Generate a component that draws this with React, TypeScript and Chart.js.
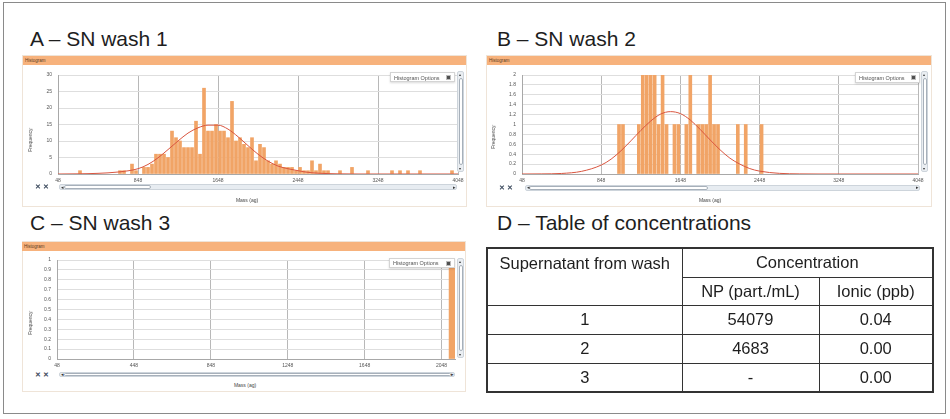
import React, { useEffect, useRef } from "react";
import { Chart, registerables } from "chart.js";
Chart.register(...registerables);

// ---------- DATA ----------
// Panel A – SN wash 1 (bin centres in ag, frequency)
const massA = [268, 668, 708, 788, 828, 908, 948, 988, 1028, 1068, 1108, 1148, 1188, 1228, 1268, 1308, 1348, 1388, 1428, 1468, 1508, 1548, 1588, 1628, 1668, 1708, 1748, 1788, 1828, 1868, 1908, 1948, 1988, 2028, 2068, 2108, 2148, 2188, 2228, 2268, 2308, 2348, 2388, 2428, 2468, 2508, 2548, 2588, 2628, 2668, 2708, 2748, 2868, 2988, 3148, 3388, 3468, 3548, 3668, 3988];
const countA = [1, 1, 1, 3, 1, 2, 2, 3, 6, 6, 6, 5, 13, 11, 10, 8, 8, 8, 16, 6, 26, 13, 13, 15, 13, 13, 11, 22, 10, 11, 9, 8, 11, 4, 9, 8, 4, 3, 4, 3, 2, 2, 2, 1, 2, 1, 1, 4, 1, 3, 1, 1, 1, 2, 1, 1, 1, 1, 1, 1];
const fitMassA = [48, 248, 448, 648, 848, 948, 1048, 1148, 1248, 1348, 1448, 1548, 1648, 1748, 1848, 1948, 2048, 2148, 2248, 2348, 2448, 2548, 2648, 2848, 3048, 4048];
const fitA = [0, 0.05, 0.2, 0.6, 1.6, 2.9, 4.9, 7.4, 10.0, 12.4, 14.0, 14.8, 14.8, 13.6, 11.3, 8.6, 6.0, 3.9, 2.4, 1.6, 1.0, 0.5, 0.25, 0.05, 0, 0];
const xTicksA = [48, 848, 1648, 2448, 3248, 4048];

// Panel B – SN wash 2
const massB = [1028, 1068, 1228, 1268, 1308, 1348, 1388, 1428, 1468, 1508, 1588, 1628, 1708, 1748, 1828, 1868, 1908, 1948, 1988, 2028, 2228, 2308, 2468];
const countB = [1, 1, 1, 2, 2, 2, 2, 1, 2, 1, 1, 1, 1, 2, 1, 1, 1, 2, 1, 1, 1, 1, 1];
const fitMassB = [48, 248, 448, 648, 848, 948, 1048, 1148, 1248, 1348, 1448, 1548, 1648, 1748, 1848, 1948, 2048, 2148, 2248, 2348, 2448, 2648, 2848, 3048, 4048];
const fitB = [0, 0.002, 0.011, 0.053, 0.18, 0.3, 0.47, 0.67, 0.88, 1.07, 1.21, 1.26, 1.22, 1.09, 0.9, 0.69, 0.49, 0.32, 0.2, 0.11, 0.058, 0.013, 0.002, 0, 0];
const xTicksB = [48, 848, 1648, 2448, 3248, 4048];

// Panel C – SN wash 3
const massC = [2102];
const countC = [1];
const xTicksC = [48, 448, 848, 1248, 1648, 2048];

// Panel D – table
const washes = ["1", "2", "3"];
const npConc = ["54079", "4683", "-"];
const ionicConc = ["0.04", "0.00", "0.00"];

// ---------- STYLE ----------
const FONT = "'Liberation Sans', Arial, Helvetica, sans-serif";
const BAR = "#F1A466";
const FIT = "#D9553F";
const HEADER = "#F7B27C";

type Box = [number, number, number, number];
type Panel = {
  mass: number[];
  count: number[];
  fitMass: number[] | null;
  fit: number[] | null;
  xTicks: number[];
  xMin: number;
  xMax: number;
  yMax: number;
  yStep: number;
  barThickness: number;
  frame: Box;
  header: Box;
  canvas: Box;
  yAxisWidth: number;
  freq: [number, number];
  opts: Box;
  vscroll: Box;
  hscroll: Box;
  thumb: [number, number];
  icons: [number, number];
  massLabel: [number, number];
};

const panelA: Panel = {
  mass: massA, count: countA, fitMass: fitMassA, fit: fitA, xTicks: xTicksA,
  xMin: 48, xMax: 4048, yMax: 30, yStep: 5, barThickness: 3,
  frame: [22, 55, 445, 152], header: [23, 56, 443, 9], canvas: [22, 66, 446, 120],
  yAxisWidth: 36, freq: [30, 140], opts: [390, 72, 65, 10], vscroll: [457, 71, 7, 101],
  hscroll: [59, 184, 398, 6], thumb: [63, 150], icons: [35, 183], massLabel: [247, 200],
};
const panelB: Panel = {
  mass: massB, count: countB, fitMass: fitMassB, fit: fitB, xTicks: xTicksB,
  xMin: 48, xMax: 4048, yMax: 2, yStep: 0.2, barThickness: 3,
  frame: [486, 55, 446, 152], header: [487, 56, 444, 9], canvas: [486, 66, 442, 120],
  yAxisWidth: 36, freq: [493, 137], opts: [855, 72, 65, 10.5], vscroll: [921, 71, 7, 101],
  hscroll: [525, 184.5, 395, 6], thumb: [528, 707], icons: [499, 183.5], massLabel: [710, 200],
};
const panelC: Panel = {
  mass: massC, count: countC, fitMass: null, fit: null, xTicks: xTicksC,
  xMin: 48, xMax: 2118, yMax: 1, yStep: 0.1, barThickness: 5.7,
  frame: [22, 241, 444, 151], header: [22, 242, 443, 9], canvas: [22, 251, 443, 120],
  yAxisWidth: 35, freq: [30, 323], opts: [389, 257.5, 66, 10.5], vscroll: [457, 258, 7, 100],
  hscroll: [59, 371.5, 396, 5.5], thumb: [63, 450], icons: [35, 370.5], massLabel: [245, 385],
};

const abs = (b: Box): React.CSSProperties => ({
  position: "absolute", left: b[0], top: b[1], width: b[2], height: b[3], boxSizing: "border-box",
});

function Histogram({ p }: { p: Panel }) {
  const ref = useRef<HTMLCanvasElement>(null);
  useEffect(() => {
    const datasets: any[] = [];
    if (p.fit && p.fitMass) {
      datasets.push({
        type: "line",
        data: p.fit.map((y, i) => ({ x: p.fitMass![i], y })),
        borderColor: FIT, borderWidth: 1, pointRadius: 0, fill: false,
        cubicInterpolationMode: "monotone", order: 0,
      });
    }
    datasets.push({
      type: "bar",
      data: p.mass.map((x, i) => ({ x, y: p.count[i] })),
      backgroundColor: BAR, borderWidth: 0, barThickness: p.barThickness, order: 1,
    });
    const tickFont = { size: 5, family: FONT };
    const chart = new Chart(ref.current!, {
      type: "bar",
      data: { datasets },
      options: {
        responsive: false, animation: false, devicePixelRatio: 1,
        layout: { padding: { top: 5, right: 10, left: 0, bottom: 0 } },
        plugins: { legend: { display: false }, tooltip: { enabled: false } },
        scales: {
          x: {
            type: "linear", min: p.xMin, max: p.xMax, offset: false,
            afterBuildTicks: (s: any) => { s.ticks = p.xTicks.map((v) => ({ value: v })); },
            afterFit: (s: any) => { s.height = 12; },
            grid: { color: "#b8b8b8", drawTicks: false, offset: false },
            border: { display: true, color: "#a8a8a8" },
            ticks: { font: tickFont, color: "#555", padding: 4, maxRotation: 0, autoSkip: false, callback: (v: any) => String(v) },
          },
          y: {
            min: 0, max: p.yMax,
            afterFit: (s: any) => { s.width = p.yAxisWidth; },
            grid: { color: "#dedede", drawTicks: false },
            border: { display: true, color: "#a8a8a8" },
            ticks: { stepSize: p.yStep, font: tickFont, color: "#555", padding: 6, callback: (v: any) => String(Math.round(Number(v) * 10) / 10) },
          },
        },
      } as any,
    });
    return () => chart.destroy();
  }, []);

  const [cx, cy, cw, ch] = p.canvas;
  const small: React.CSSProperties = { fontFamily: FONT, fontSize: 5, color: "#444", whiteSpace: "nowrap" };
  return (
    <>
      <div style={{ ...abs(p.frame), border: "1px solid #efe4d8" }} />
      <div style={{ ...abs(p.header), background: HEADER }}>
        <span style={{ ...small, fontSize: 4.5, position: "absolute", left: 2, top: 2, color: "#5a3a20" }}>Histogram</span>
      </div>
      <canvas ref={ref} width={cw} height={ch} style={{ position: "absolute", left: cx, top: cy, width: cw, height: ch }} />
      <span style={{ ...small, position: "absolute", left: p.freq[0], top: p.freq[1], transform: "translate(-50%,-50%) rotate(-90deg)" }}>Frequency</span>
      {/* Histogram options box */}
      <div style={{ ...abs(p.opts), background: "#fff", border: "1px solid #d4d4d4", boxShadow: "0 1px 2px rgba(0,0,0,0.15)" }}>
        <span style={{ ...small, fontSize: 5.5, color: "#555", position: "absolute", left: 3, top: 1.5 }}>Histogram Options</span>
        <div style={{ position: "absolute", right: 3, top: 2, width: 5, height: 5, background: "#505050", border: "1px solid #bbb", boxSizing: "border-box" }} />
      </div>
      {/* vertical scrollbar */}
      <div style={{ ...abs(p.vscroll), background: "#eaeef2", border: "1px solid #cdd4db", borderRadius: 2 }}>
        <div style={{ position: "absolute", left: 0.5, top: 6, width: 4, height: p.vscroll[3] - 14, background: "#fff", border: "1px solid #a7b0ba", borderRadius: 2, boxSizing: "border-box" }} />
        <span style={{ ...small, fontSize: 4, position: "absolute", left: 0.5, top: -0.5, color: "#333" }}>▴</span>
        <span style={{ ...small, fontSize: 4, position: "absolute", left: 0.5, bottom: 0, color: "#333" }}>▾</span>
      </div>
      {/* horizontal scrollbar */}
      <div style={{ ...abs(p.hscroll), background: "#e7ecf1", border: "1px solid #cdd4db", borderRadius: 2 }}>
        <div style={{ position: "absolute", left: p.thumb[0] - p.hscroll[0], top: 0, width: p.thumb[1] - p.thumb[0], height: p.hscroll[3] - 2, background: "#fff", border: "1px solid #a7b0ba", borderRadius: 2, boxSizing: "border-box" }} />
        <span style={{ ...small, fontSize: 4.5, position: "absolute", left: 0.5, top: -0.5, color: "#333" }}>◂</span>
        <span style={{ ...small, fontSize: 4.5, position: "absolute", right: 0.5, top: -0.5, color: "#333" }}>▸</span>
      </div>
      <span style={{ ...small, fontSize: 7, fontWeight: "bold", color: "#3f4d60", position: "absolute", left: p.icons[0], top: p.icons[1] }}>✕</span>
      <span style={{ ...small, fontSize: 7, fontWeight: "bold", color: "#3f4d60", position: "absolute", left: p.icons[0] + 8, top: p.icons[1] }}>✕</span>
      <span style={{ ...small, position: "absolute", left: p.massLabel[0], top: p.massLabel[1], transform: "translate(-50%,-50%)" }}>Mass (ag)</span>
    </>
  );
}

const titleStyle = (left: number, top: number): React.CSSProperties => ({
  position: "absolute", left, top, fontFamily: FONT, fontSize: 21, lineHeight: "21px", color: "#1e1e1e", whiteSpace: "nowrap",
});

function ConcTable() {
  const cell: React.CSSProperties = { border: "1.5px solid #333", textAlign: "center", padding: 0, fontFamily: FONT, fontSize: 16.5, color: "#1e1e1e" };
  return (
    <table style={{ position: "absolute", left: 486, top: 247, width: 446, height: 144, borderCollapse: "collapse", tableLayout: "fixed", border: "2px solid #333" }}>
      <colgroup>
        <col style={{ width: 195 }} />
        <col style={{ width: 137 }} />
        <col style={{ width: 114 }} />
      </colgroup>
      <tbody>
        <tr style={{ height: 29 }}>
          <td rowSpan={2} style={{ ...cell, verticalAlign: "top", paddingTop: 5 }}>Supernatant from wash</td>
          <td colSpan={2} style={cell}>Concentration</td>
        </tr>
        <tr style={{ height: 28 }}>
          <td style={cell}>NP (part./mL)</td>
          <td style={cell}>Ionic (ppb)</td>
        </tr>
        {washes.map((w, i) => (
          <tr key={w} style={{ height: 29 }}>
            <td style={cell}>{w}</td>
            <td style={cell}>{npConc[i]}</td>
            <td style={cell}>{ionicConc[i]}</td>
          </tr>
        ))}
      </tbody>
    </table>
  );
}

export default function App() {
  return (
    <div style={{ position: "fixed", left: 0, top: 0, width: 950, height: 419, background: "#fff", overflow: "hidden" }}>
      <div style={{ position: "absolute", left: 3, top: 2, width: 943, height: 412, border: "1px solid #8a8a8a", boxSizing: "border-box" }} />
      <div style={titleStyle(30, 28)}>A – SN wash 1</div>
      <div style={titleStyle(497, 28)}>B – SN wash 2</div>
      <div style={titleStyle(30, 212)}>C – SN wash 3</div>
      <div style={titleStyle(497, 212)}>D – Table of concentrations</div>
      <Histogram p={panelA} />
      <Histogram p={panelB} />
      <Histogram p={panelC} />
      <ConcTable />
    </div>
  );
}
